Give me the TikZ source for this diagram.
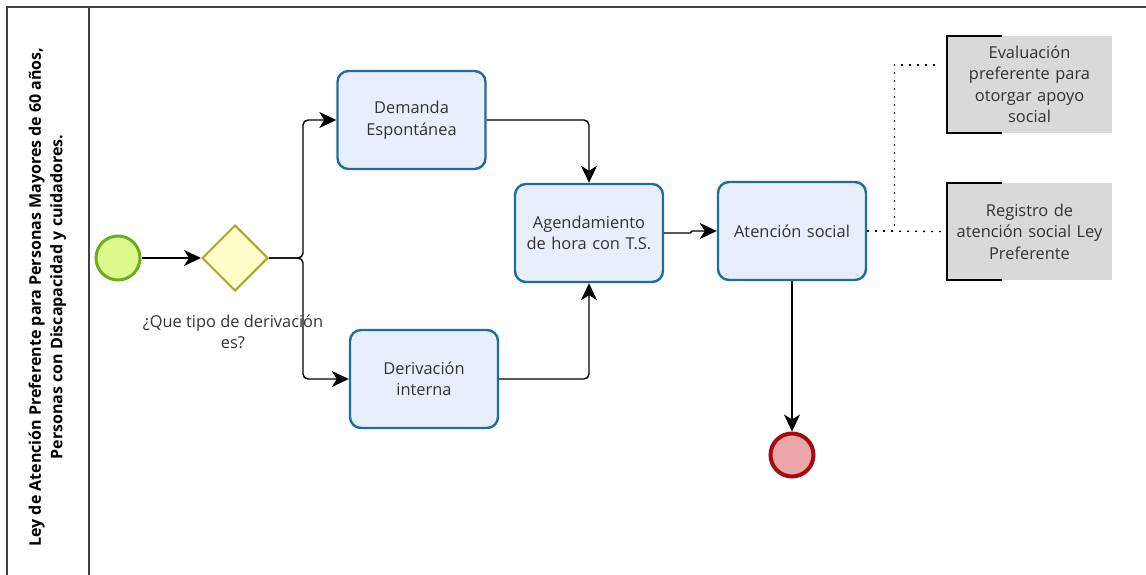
\documentclass[tikz,border=0pt]{standalone}
\usepackage{fontspec}
\setmainfont{Open Sans}
\usetikzlibrary{arrows.meta,shapes.geometric}
\definecolor{taskline}{HTML}{1E6E9C}
\definecolor{taskfill}{HTML}{E8EEFC}
\definecolor{txt}{HTML}{333333}
\definecolor{startline}{HTML}{6AAD21}
\definecolor{startfill}{HTML}{DDF98C}
\definecolor{gwline}{HTML}{A6A82E}
\definecolor{gwfill}{HTML}{FFFDC8}
\definecolor{endline}{HTML}{A20E0E}
\definecolor{endfill}{HTML}{EBA6A9}
\definecolor{annfill}{HTML}{D9D9D9}
\definecolor{frame}{HTML}{404040}
\tikzset{
  taskbox/.style={draw=taskline, line width=2.4pt, fill=taskfill, rounded corners=11pt,
    minimum width=148pt, minimum height=98pt, align=center, text width=140pt,
    font=\fontsize{16.4}{21.5}\selectfont, text=txt, inner sep=0pt},
  annbox/.style={fill=annfill, minimum width=165pt, minimum height=97pt, align=center,
    text width=155pt, font=\fontsize{16.4}{21.5}\selectfont, text=txt, inner sep=0pt},
  bracket/.style={line width=1.5pt, draw=black},
  flow/.style={line width=1.4pt, draw=black, rounded corners=5pt,
    -{Stealth[length=17pt,width=16pt,inset=5pt]}},
  assoc/.style={line width=1.3pt, draw=black, dash pattern=on 2pt off 6pt},
  lanetext/.style={font=\bfseries\fontsize{16}{21.5}\selectfont, align=center, text=black},
}
\begin{document}
\begin{tikzpicture}[x=1pt,y=-1pt]
\useasboundingbox (0,0) rectangle (1146,575);
% frame
\draw[frame, line width=1.5pt] (7,580) -- (7,7) -- (1150,7);
\draw[frame, line width=1.5pt] (89,7) -- (89,580);
\node[lanetext, rotate=90] (lane) at (47.5,297) {Ley de Atención Preferente para Personas Mayores de 60 años,\\Personas con Discapacidad y cuidadores.};
% events and gateway
\node[circle, draw=startline, fill=startfill, line width=3pt, minimum size=44pt, inner sep=0pt] (start) at (118,258) {};
\node[diamond, aspect=1, draw=gwline, fill=gwfill, line width=2pt, minimum size=66pt, inner sep=0pt] (gw) at (235,258) {};
\node[font=\fontsize{16.4}{21.5}\selectfont, text=txt, align=center] (gwl) at (233,332) {¿Que tipo de derivación\\es?};
\node[circle, draw=endline, fill=endfill, line width=4pt, minimum size=43pt, inner sep=0pt] (end) at (792,455) {};
% tasks
\node[taskbox] (dem) at (411.5,120) {Demanda\\Espontánea};
\node[taskbox] (der) at (424,379) {Derivación\\interna};
\node[taskbox] (agd) at (589,233) {Agendamiento\\de hora con T.S.};
\node[taskbox] (att) at (792,231) {Atención social};
% annotations
\node[annbox] (eval) at (1029.5,84.5) {Evaluación\\preferente para\\otorgar apoyo\\social};
\node[annbox] (reg) at (1029.5,231.5) {Registro de\\atención social Ley\\Preferente};
\draw[bracket] ([xshift=55pt]eval.north west) -- (eval.north west) -- (eval.south west) -- ([xshift=55pt]eval.south west);
\draw[bracket] ([xshift=55pt]reg.north west) -- (reg.north west) -- (reg.south west) -- ([xshift=55pt]reg.south west);
% flows
\draw[flow] (start) -- (gw);
\draw[flow] (gw.east) -- (303,258) |- (dem.west);
\draw[flow] (gw.east) -- (303,258) |- (der.west);
\draw[flow] (dem.east) -| (agd.north);
\draw[flow] (der.east) -| (agd.south);
\draw[flow, rounded corners=1pt] (agd.east) -- ++(27,0) |- (att.west);
\draw[flow] (att.south) -- (end.north);
% associations
\draw[assoc] (att.east) -- ([xshift=-6pt]reg.west);
\draw[assoc] (att.east) -- ++(27,0) |- ([yshift=19.5pt, xshift=-6pt]eval.west);
\end{tikzpicture}
\end{document}
